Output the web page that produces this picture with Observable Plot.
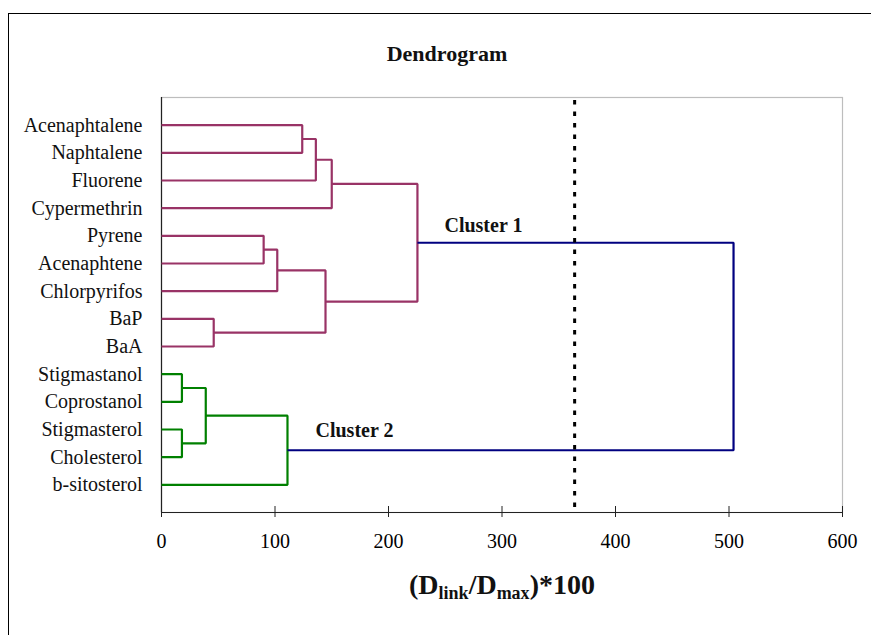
<!DOCTYPE html>
<html><head><meta charset="utf-8">
<script src="https://cdn.jsdelivr.net/npm/d3@7"></script>
<script src="https://cdn.jsdelivr.net/npm/@observablehq/plot@0.6"></script>
<style>
body{margin:0;background:#fff;overflow:hidden}
#frame{position:absolute;left:8px;top:13px;width:862px;height:1000px;border-left:1.5px solid #000;border-top:1.5px solid #000;}
#chart{position:absolute;left:0;top:0}
</style>
</head><body><div id="frame"></div><div id="chart"></div>
<script>
// Leaves (top to bottom)
const leaves = ["Acenaphtalene","Naphtalene","Fluorene","Cypermethrin","Pyrene","Acenaphtene","Chlorpyrifos","BaP","BaA","Stigmastanol","Coprostanol","Stigmasterol","Cholesterol","b-sitosterol"];
// Linkage: children ("#k" = merge k), linkage distance, cluster
const mergeLeft   = ["Acenaphtalene","#0","#1","Pyrene","#3","BaP","#4","#2","Stigmastanol","Stigmasterol","#8","#10","#7"];
const mergeRight  = ["Naphtalene","Fluorene","Cypermethrin","Acenaphtene","Chlorpyrifos","BaA","#5","#6","Coprostanol","Cholesterol","#9","b-sitosterol","#11"];
const mergeHeight = [124,136,150,90,102,46,144.5,225.5,18,18,39,111,504];
const mergeCluster= ["c1","c1","c1","c1","c1","c1","c1","c1","c2","c2","c2","c2","link"];
const clusterColor = {c1:"#993366", c2:"#008000", link:"#000080"};
const clusterNames = ["Cluster 1","Cluster 2"];
const clusterNodes = [7, 11];
const xTicks = [0,100,200,300,400,500,600];
const cutoff = 364;

// node positions
const memo = {};
function pos(name){
  if (name in memo) return memo[name];
  let p;
  if (name.startsWith("#")) {
    const k = +name.slice(1);
    const a = pos(mergeLeft[k]), b = pos(mergeRight[k]);
    p = {x: mergeHeight[k], y: (a.y + b.y) / 2};
  } else {
    p = {x: 0, y: leaves.indexOf(name) + 1};
  }
  return memo[name] = p;
}
const points = [];
mergeHeight.forEach((h, k) => {
  const a = pos(mergeLeft[k]), b = pos(mergeRight[k]);
  const color = clusterColor[mergeCluster[k]];
  points.push({k, x: a.x, y: a.y, color}, {k, x: h, y: a.y, color}, {k, x: h, y: b.y, color}, {k, x: b.x, y: b.y, color});
});

const serif = "'Liberation Serif','Times New Roman',serif";
const chart = Plot.plot({
  width: 874, height: 635,
  marginLeft: 161, marginRight: 32, marginTop: 97, marginBottom: 123,
  style: {fontFamily: serif, background: "transparent", color: "#000", overflow: "visible"},
  x: {domain: [0, 600]},
  y: {domain: [15, 0], axis: null},
  color: {type: "identity"},
  marks: [
    Plot.frame({stroke: "#bdbdbd", strokeWidth: 1.2}),
    Plot.axisX({ticks: xTicks, tickSize: 5, tickPadding: 16, fontSize: 20, label: null, tickFormat: d => String(d), stroke: "#222"}),
    Plot.tickX(xTicks, {x: d => d, insetTop: 409, stroke: "#222"}),
    Plot.ruleY([15], {stroke: "#222", strokeWidth: 1.2}),
    Plot.ruleX([0], {stroke: "#222", strokeWidth: 1.2}),
    Plot.line(points, {x: "x", y: "y", z: "k", stroke: "color", strokeWidth: 2.2, strokeLinejoin: "miter", strokeLinecap: "butt"}),
    Plot.ruleX([cutoff], {stroke: "#000", strokeWidth: 3, strokeDasharray: "4.5,7", strokeDashoffset: -3}),
    Plot.text(leaves, {x: 0, y: (d, i) => i + 1, text: d => d, textAnchor: "end", dx: -19, fontSize: 20, fill: "#111"}),
    Plot.text([clusterNames[0]], {x: mergeHeight[clusterNodes[0]], y: pos("#" + clusterNodes[0]).y, text: d => d, textAnchor: "start", dx: 27, dy: -17, fontSize: 20, fontWeight: "bold", fill: "#111"}),
    Plot.text([clusterNames[1]], {x: mergeHeight[clusterNodes[1]], y: pos("#" + clusterNodes[1]).y, text: d => d, textAnchor: "start", dx: 28, dy: -20, fontSize: 20, fontWeight: "bold", fill: "#111"}),
    Plot.text(["Dendrogram"], {frameAnchor: "top", text: d => d, dx: -55, dy: -52, fontSize: 22, fontWeight: "bold", fill: "#111"}),
    Plot.text(["AXIS_TITLE"], {frameAnchor: "bottom", text: d => d, dy: 81, fontSize: 28, fontWeight: "bold", fill: "#111"})
  ]
});
document.getElementById("chart").appendChild(chart);

const t = d3.select(chart).selectAll("text").filter(function(){ return this.textContent === "AXIS_TITLE"; });
t.text("");
t.append("tspan").text("(D");
t.append("tspan").attr("font-size", 18).attr("dy", 5).text("link");
t.append("tspan").attr("dy", -5).text("/D");
t.append("tspan").attr("font-size", 18).attr("dy", 5).text("max");
t.append("tspan").attr("dy", -5).text(")*100");
</script>
</body></html>
